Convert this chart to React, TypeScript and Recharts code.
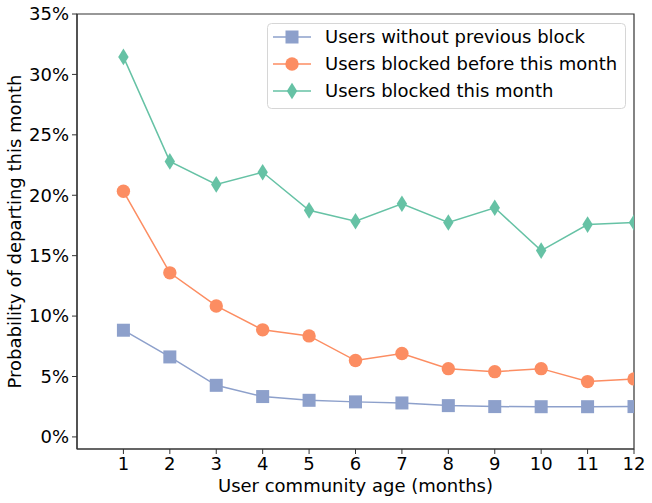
import React from "react";
import { LineChart, Line, XAxis, YAxis, Legend, Label, ReferenceArea } from "recharts";

const months = [1, 2, 3, 4, 5, 6, 7, 8, 9, 10, 11, 12];
const withoutPrevious = [8.83, 6.62, 4.27, 3.34, 3.03, 2.9, 2.81, 2.59, 2.51, 2.5, 2.5, 2.51];
const blockedBefore = [20.33, 13.58, 10.84, 8.86, 8.36, 6.32, 6.9, 5.65, 5.4, 5.65, 4.58, 4.8];
const blockedThisMonth = [31.45, 22.8, 20.9, 21.9, 18.75, 17.85, 19.3, 17.74, 18.96, 15.42, 17.57, 17.74];
const xTicks = [1, 2, 3, 4, 5, 6, 7, 8, 9, 10, 11, 12];
const yTicks = [0, 5, 10, 15, 20, 25, 30, 35];
const xDomain = [0, 12];
const yDomain = [-1, 35];

const seriesNames = [
  "Users without previous block",
  "Users blocked before this month",
  "Users blocked this month",
];
const BLUE = "#8da0cb";
const ORANGE = "#fc8d62";
const GREEN = "#66c2a5";
const FONT = "DejaVu Sans";

const data = months.map((m, i) => ({
  month: m,
  a: withoutPrevious[i],
  b: blockedBefore[i],
  c: blockedThisMonth[i],
}));

const SquareDot = (props: any) => {
  const { cx, cy } = props;
  if (cx == null || cy == null) return null;
  return <rect x={cx - 6.5} y={cy - 6.5} width={13} height={13} fill={BLUE} />;
};
const CircleDot = (props: any) => {
  const { cx, cy } = props;
  if (cx == null || cy == null) return null;
  return <circle cx={cx} cy={cy} r={6.7} fill={ORANGE} />;
};
const DiamondDot = (props: any) => {
  const { cx, cy } = props;
  if (cx == null || cy == null) return null;
  return (
    <polygon
      points={`${cx},${cy - 8.3} ${cx + 5.2},${cy} ${cx},${cy + 8.3} ${cx - 5.2},${cy}`}
      fill={GREEN}
    />
  );
};

const renderLegend = () => {
  const rows = [
    { name: seriesNames[0], color: BLUE, kind: "s" },
    { name: seriesNames[1], color: ORANGE, kind: "o" },
    { name: seriesNames[2], color: GREEN, kind: "d" },
  ];
  return (
    <svg width={360} height={87} style={{ display: "block" }}>
      <rect
        x={0.5}
        y={0.5}
        width={358}
        height={85}
        rx={4}
        ry={4}
        fill="rgba(255,255,255,0.8)"
        stroke="#d6d6d6"
        strokeWidth={1}
      />
      {rows.map((r, i) => {
        const cy = 14 + i * 27;
        const cx = 25;
        let marker: React.ReactNode = null;
        if (r.kind === "s")
          marker = <rect x={cx - 6.5} y={cy - 6.5} width={13} height={13} fill={r.color} />;
        else if (r.kind === "o") marker = <circle cx={cx} cy={cy} r={6.7} fill={r.color} />;
        else
          marker = (
            <polygon
              points={`${cx},${cy - 8.3} ${cx + 5.2},${cy} ${cx},${cy + 8.3} ${cx - 5.2},${cy}`}
              fill={r.color}
            />
          );
        return (
          <g key={r.name}>
            <line x1={6} x2={44} y1={cy} y2={cy} stroke={r.color} strokeWidth={1.5} />
            {marker}
            <text x={58} y={cy} dy="0.36em" fontFamily={FONT} fontSize={18} fill="#000">
              {r.name}
            </text>
          </g>
        );
      })}
    </svg>
  );
};

const YLabel = (props: any) => {
  const vb = props.viewBox || {};
  const cy = (vb.y ?? 14) + (vb.height ?? 435) / 2;
  const x = 20.5;
  return (
    <text
      x={x}
      y={cy}
      transform={`rotate(-90, ${x}, ${cy})`}
      textAnchor="middle"
      fontFamily={FONT}
      fontSize={18}
      fill="#000"
    >
      Probability of departing this month
    </text>
  );
};

const XLabel = (props: any) => {
  const vb = props.viewBox || {};
  const cx = (vb.x ?? 77) + (vb.width ?? 557) / 2;
  return (
    <text x={cx} y={492} textAnchor="middle" fontFamily={FONT} fontSize={18} fill="#000">
      User community age (months)
    </text>
  );
};

const tickStyle = { fontFamily: FONT, fontSize: 18, fill: "#000" };

export default function App() {
  return (
    <div style={{ position: "absolute", left: 0, top: 0, width: 652, height: 503, background: "#fff" }}>
      <LineChart
        width={652}
        height={503}
        data={data}
        margin={{ top: 14, right: 18, bottom: 0, left: 0 }}
      >
        <XAxis
          dataKey="month"
          type="number"
          domain={xDomain}
          ticks={xTicks}
          allowDataOverflow
          height={54}
          tick={tickStyle}
          tickSize={5}
          tickMargin={3}
          axisLine={{ stroke: "#333", strokeWidth: 1.2 }}
          tickLine={{ stroke: "#333", strokeWidth: 1 }}
        >
          <Label content={<XLabel />} />
        </XAxis>
        <YAxis
          type="number"
          domain={yDomain}
          ticks={yTicks}
          allowDataOverflow
          width={77}
          tickFormatter={(v: number) => `${v}%`}
          tick={tickStyle}
          tickSize={5}
          tickMargin={3}
          axisLine={{ stroke: "#333", strokeWidth: 1.2 }}
          tickLine={{ stroke: "#333", strokeWidth: 1 }}
        >
          <Label content={<YLabel />} />
        </YAxis>
        <Legend
          content={renderLegend}
          layout="vertical"
          align="center"
          verticalAlign="middle"
          wrapperStyle={{ position: "absolute", top: 23, left: 267, width: 360, height: 87 }}
        />
        <Line
          dataKey="a"
          name={seriesNames[0]}
          stroke={BLUE}
          strokeWidth={1.5}
          dot={<SquareDot r={0} strokeWidth={0} />}
          activeDot={false}
          isAnimationActive={false}
        />
        <Line
          dataKey="b"
          name={seriesNames[1]}
          stroke={ORANGE}
          strokeWidth={1.5}
          dot={<CircleDot r={0} strokeWidth={0} />}
          activeDot={false}
          isAnimationActive={false}
        />
        <Line
          dataKey="c"
          name={seriesNames[2]}
          stroke={GREEN}
          strokeWidth={1.5}
          dot={<DiamondDot r={0} strokeWidth={0} />}
          activeDot={false}
          isAnimationActive={false}
        />
        <ReferenceArea
          x1={xDomain[0]}
          x2={xDomain[1]}
          y1={yDomain[0]}
          y2={yDomain[1]}
          fill="none"
          fillOpacity={0}
          stroke="#333"
          strokeWidth={1.2}
          strokeOpacity={1}
          ifOverflow="visible"
        />
      </LineChart>
    </div>
  );
}
